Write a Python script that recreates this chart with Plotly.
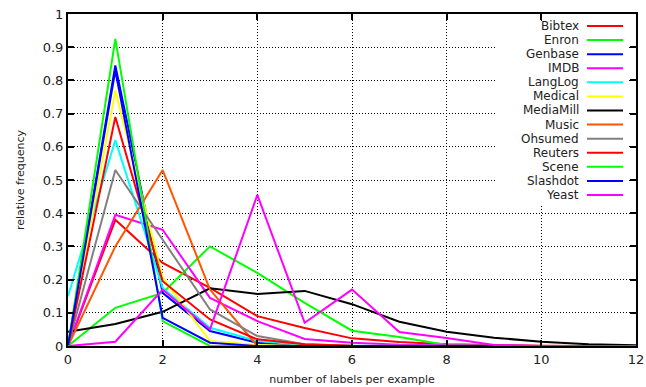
import plotly.graph_objects as go

x_vals = list(range(13))

names = ["Bibtex", "Enron", "Genbase", "IMDB", "LangLog", "Medical", "MediaMill",
         "Music", "Ohsumed", "Reuters", "Scene", "Slashdot", "Yeast"]
colors = ["#ff0000", "#00ff00", "#0000ff", "#ff00ff", "#00ffff", "#ffff00", "#000000",
          "#ff5500", "#808080", "#ff0000", "#00ff00", "#0000ff", "#ff00ff"]

bibtex    = [0.0, 0.38, 0.25, 0.175, 0.09, 0.054, 0.023, 0.012, 0.005, 0.002, 0.001, 0.0, 0.0]
enron     = [0.0, 0.115, 0.16, 0.30, 0.22, 0.13, 0.046, 0.027, 0.003, 0.001, 0.0, 0.0, 0.0]
genbase   = [0.0, 0.845, 0.16, 0.045, 0.01, 0.0, 0.0, 0.0, 0.0, 0.0, 0.0, 0.0, 0.0]
imdb      = [0.0, 0.395, 0.35, 0.145, 0.075, 0.021, 0.01, 0.004, 0.002, 0.0, 0.0, 0.0, 0.0]
langlog   = [0.15, 0.62, 0.175, 0.055, 0.015, 0.004, 0.001, 0.0, 0.0, 0.0, 0.0, 0.0, 0.0]
medical   = [0.0, 0.77, 0.205, 0.015, 0.003, 0.0, 0.0, 0.0, 0.0, 0.0, 0.0, 0.0, 0.0]
mediamill = [0.043, 0.066, 0.103, 0.174, 0.157, 0.166, 0.126, 0.073, 0.043, 0.025, 0.013, 0.005, 0.002]
music     = [0.0, 0.30, 0.53, 0.17, 0.0, None, None, None, None, None, None, None, None]
ohsumed   = [0.0, 0.53, 0.32, 0.11, 0.03, 0.005, 0.001, 0.0, 0.0, 0.0, 0.0, 0.0, 0.0]
reuters   = [0.0, 0.69, 0.195, 0.08, 0.02, 0.005, 0.001, 0.0, 0.0, 0.0, 0.0, 0.0, 0.0]
scene     = [0.0, 0.925, 0.075, 0.0, 0.0, 0.0, 0.0, 0.0, 0.0, 0.0, 0.0, 0.0, 0.0]
slashdot  = [0.0, 0.83, 0.085, 0.01, 0.0, 0.0, 0.0, 0.0, 0.0, 0.0, 0.0, 0.0, 0.0]
yeast     = [0.0, 0.013, 0.17, 0.05, 0.455, 0.07, 0.17, 0.042, 0.024, 0.003, 0.0, 0.0, 0.0]

series = [bibtex, enron, genbase, imdb, langlog, medical, mediamill,
          music, ohsumed, reuters, scene, slashdot, yeast]

x_ticks = [0, 2, 4, 6, 8, 10, 12]
y_ticks = [0, 0.1, 0.2, 0.3, 0.4, 0.5, 0.6, 0.7, 0.8, 0.9, 1]

fig = go.Figure()
for name, col, ys in zip(names, colors, series):
    fig.add_trace(go.Scatter(x=x_vals, y=ys, mode="lines", name=name,
                             line=dict(color=col, width=2), showlegend=False))

W, H = 646, 387
L, R, T, B = 68, 636, 14, 346
def px(xs):
    return (xs - L) / (R - L)
def py(ys):
    return (B - ys) / (B - T)

shapes = [dict(type="rect", xref="paper", yref="paper", x0=px(497), x1=px(629),
               y0=py(206), y1=py(21), fillcolor="white", line=dict(width=0), layer="above")]
annotations = []
for i, (name, col) in enumerate(zip(names, colors)):
    yy = 26 + i * 14.08
    shapes.append(dict(type="line", xref="paper", yref="paper", x0=px(587), x1=px(623),
                       y0=py(yy), y1=py(yy), line=dict(color=col, width=2), layer="above"))
    annotations.append(dict(text=name, xref="paper", yref="paper", x=px(581), y=py(yy),
                            xanchor="right", yanchor="middle", showarrow=False,
                            font=dict(size=12, color="#222222")))

axis_common = dict(showline=True, linewidth=2, linecolor="black", mirror="allticks",
                   ticks="inside", ticklen=6, tickwidth=2, tickcolor="black",
                   showgrid=True, gridcolor="black", gridwidth=1, griddash="1px,2px",
                   zeroline=False, automargin=False,
                   tickfont=dict(size=13, color="#222222"))

fig.update_layout(
    width=W, height=H,
    margin=dict(l=L, r=W - R, t=T, b=H - B, autoexpand=False),
    plot_bgcolor="white", paper_bgcolor="white",
    font=dict(family="DejaVu Sans", color="#222222"),
    shapes=shapes, annotations=annotations,
    xaxis=dict(range=[0, 12], tickvals=x_ticks, ticktext=[str(v) for v in x_ticks],
               title=dict(text="number of labels per example", font=dict(size=11), standoff=10),
               **axis_common),
    yaxis=dict(range=[0, 1], tickvals=y_ticks, ticktext=[("%g" % v) for v in y_ticks],
               title=dict(text="relative frequency", font=dict(size=11), standoff=16),
               **axis_common),
)

fig.write_html("out.html", config={"displayModeBar": False},
               post_script="document.body.style.margin='0px';document.body.style.overflow='hidden';")
